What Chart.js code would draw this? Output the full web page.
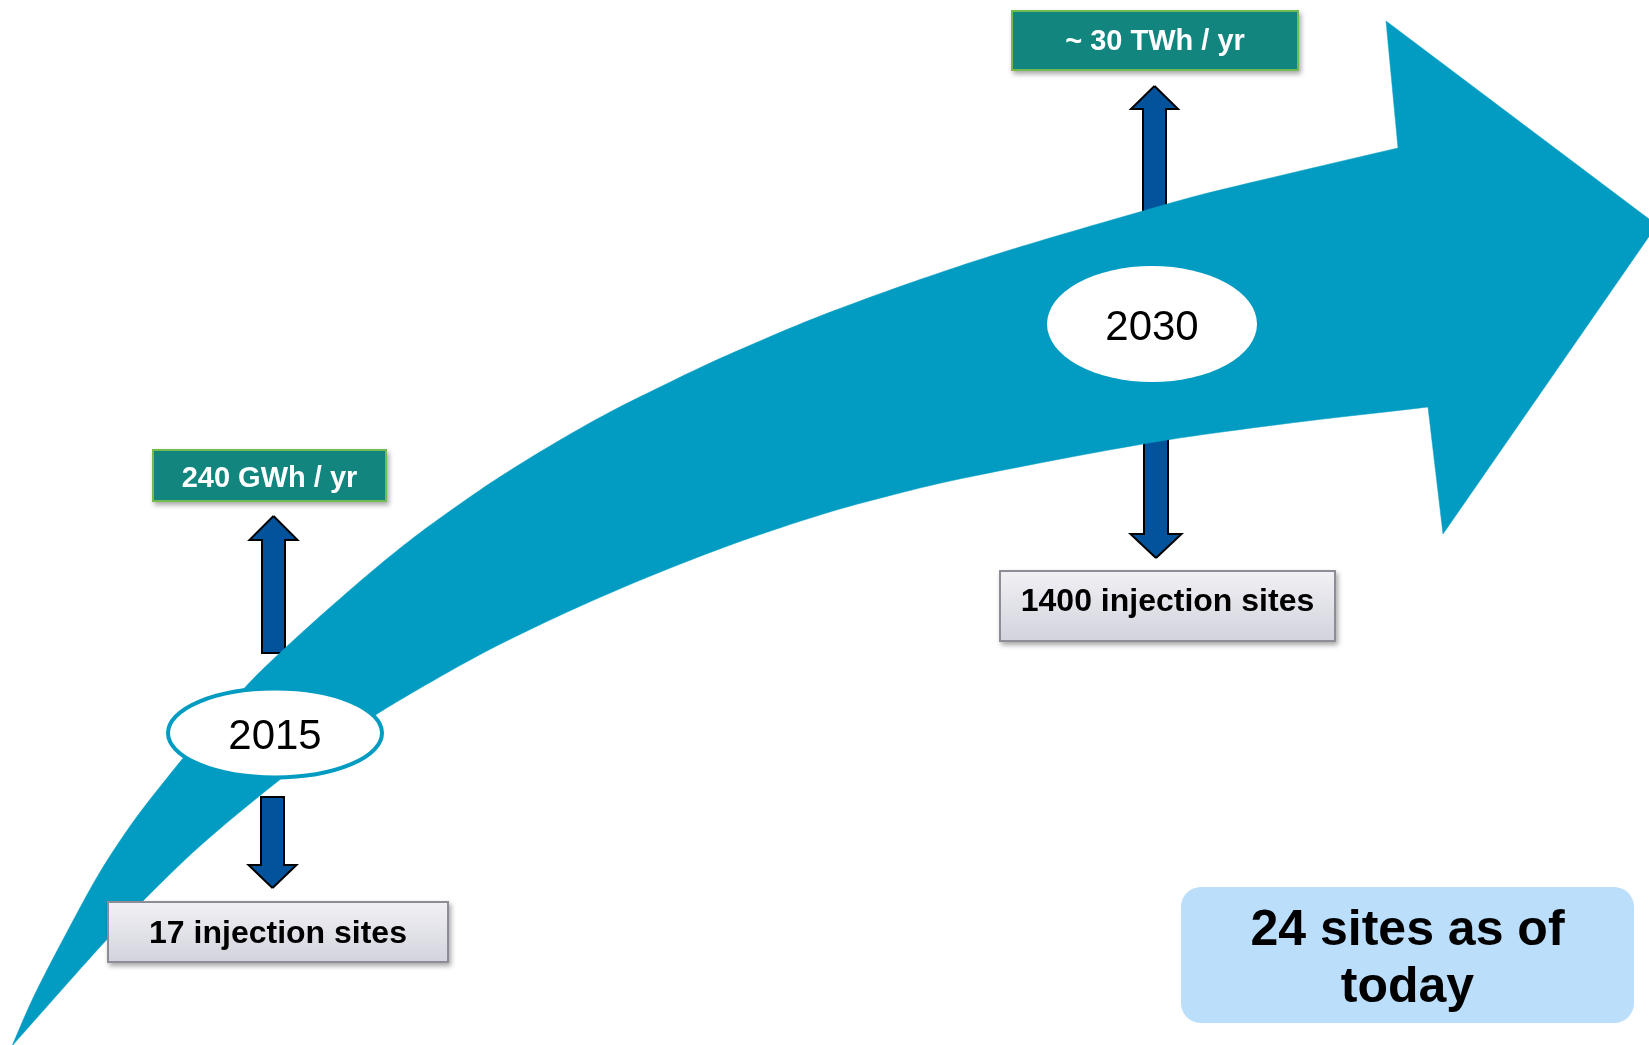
<!DOCTYPE html>
<html>
<head>
<meta charset="utf-8">
<script src="https://cdn.jsdelivr.net/npm/chart.js@4.4.1/dist/chart.umd.min.js"></script>
<style>
  html, body { margin: 0; padding: 0; background: #ffffff; }
  #wrap { width: 1649px; height: 1045px; position: relative; }
</style>
</head>
<body>
<div id="wrap"><canvas id="c" width="1649" height="1045"></canvas></div>
<script>
// ---------- data (texts) ----------
const milestoneYears = ['2015', '2030'];
const energyLabels = ['240 GWh / yr', '~ 30 TWh / yr'];
const siteLabels = ['17 injection sites', '1400 injection sites'];
const noteLines = ['24 sites as of', 'today'];

// ---------- big arrow outline (canvas units) ----------
const arrowUpperEdge = [
  [12, 1046], [33, 998], [67, 932], [100, 872], [133, 822], [167, 778], [200, 738],
  [250, 682], [283, 650], [317, 619], [350, 590], [383, 562], [417, 535], [450, 511],
  [483, 488], [517, 466], [560, 440], [610, 412], [660, 387], [710, 363], [760, 341],
  [810, 320], [860, 301], [910, 283], [960, 266], [1010, 250], [1060, 235], [1143, 211],
  [1200, 195], [1300, 171], [1398, 148], [1430, 141], [1440, 405]
];
const arrowLowerEdge = [
  [1428, 407], [1307, 421], [1200, 435], [1143, 444], [1050, 461], [950, 481], [900, 493],
  [833, 511], [750, 538], [683, 563], [617, 590], [550, 620], [483, 653], [417, 690],
  [377, 714], [330, 744], [277, 782], [200, 846], [140, 904], [100, 947], [50, 1003], [12, 1046]
];
const arrowHead = [[1398, 148], [1386, 21], [1657, 225], [1443, 534], [1428, 407], [1398, 148]];

// ---------- layout ----------
const layout = {
  ellipses: [
    { cx: 275, cy: 733, rx: 107, ry: 44.5, border: 4, baseline: 749 },
    { cx: 1152, cy: 324, rx: 105, ry: 58, border: 0, baseline: 340 }
  ],
  energyBoxes: [
    { x0: 152, y0: 449, x1: 387, y1: 502, baseline: 487 },
    { x0: 1011, y0: 10, x1: 1299, y1: 71, baseline: 50 }
  ],
  siteBoxes: [
    { x0: 107, y0: 901, x1: 449, y1: 963, baseline: 943 },
    { x0: 999, y0: 570, x1: 1336, y1: 642, baseline: 611 }
  ],
  upArrows: [
    { cx: 273.5, tip: 516, base: 540, end: 653, shaft: 23, head: 48 },
    { cx: 1154.5, tip: 86, base: 109, end: 222, shaft: 23, head: 47 }
  ],
  downArrows: [
    { cx: 272.5, tip: 888, base: 865, end: 797, shaft: 23, head: 48 },
    { cx: 1156, tip: 558, base: 534, end: 403, shaft: 24, head: 51 }
  ],
  note: { x0: 1181, y0: 887, x1: 1634, y1: 1023, r: 20, baselines: [945, 1002] }
};

const TEAL = '#029cc2';
const ARROW_BLUE = '#02539c';
const FONT = '"Liberation Sans", Arial, Helvetica, sans-serif';

const toPts = arr => arr.map(p => ({ x: p[0], y: p[1] }));

function blockArrow(a) {
  const hs = a.shaft / 2, hh = a.head / 2;
  const pts = [
    [a.cx, a.tip], [a.cx + hh, a.base], [a.cx + hs, a.base], [a.cx + hs, a.end],
    [a.cx - hs, a.end], [a.cx - hs, a.base], [a.cx - hh, a.base], [a.cx, a.tip]
  ];
  return toPts(pts);
}

const bandPolygon = toPts([...arrowUpperEdge, ...arrowLowerEdge]);

const datasets = [
  {
    data: bandPolygon, showLine: true, fill: 'shape', tension: 0.3,
    backgroundColor: TEAL, borderColor: TEAL, borderWidth: 0.5, pointRadius: 0
  },
  {
    data: toPts(arrowHead), showLine: true, fill: 'shape', tension: 0,
    backgroundColor: TEAL, borderColor: TEAL, borderWidth: 0.5, pointRadius: 0
  }
];
[...layout.upArrows, ...layout.downArrows].forEach(a => {
  datasets.push({
    data: blockArrow(a), showLine: true, fill: 'shape', tension: 0,
    backgroundColor: ARROW_BLUE, borderColor: '#000000', borderWidth: 2,
    borderJoinStyle: 'miter', pointRadius: 0
  });
});

function roundRect(ctx, x, y, w, h, r) {
  ctx.beginPath();
  ctx.moveTo(x + r, y);
  ctx.lineTo(x + w - r, y);
  ctx.arcTo(x + w, y, x + w, y + r, r);
  ctx.lineTo(x + w, y + h - r);
  ctx.arcTo(x + w, y + h, x + w - r, y + h, r);
  ctx.lineTo(x + r, y + h);
  ctx.arcTo(x, y + h, x, y + h - r, r);
  ctx.lineTo(x, y + r);
  ctx.arcTo(x, y, x + r, y, r);
  ctx.closePath();
}

const decorPlugin = {
  id: 'decor',
  afterDatasetsDraw(chart) {
    const ctx = chart.ctx;
    const xs = chart.scales.x, ys = chart.scales.y;
    const X = v => xs.getPixelForValue(v), Y = v => ys.getPixelForValue(v);
    ctx.save();

    // ellipses with years
    layout.ellipses.forEach((e, i) => {
      ctx.beginPath();
      ctx.ellipse(X(e.cx), Y(e.cy), X(e.cx + e.rx) - X(e.cx), Y(e.cy + e.ry) - Y(e.cy), 0, 0, Math.PI * 2);
      ctx.fillStyle = '#ffffff';
      ctx.fill();
      if (e.border) {
        ctx.lineWidth = e.border;
        ctx.strokeStyle = TEAL;
        ctx.stroke();
      }
      ctx.fillStyle = '#000000';
      ctx.font = '42px ' + FONT;
      ctx.textAlign = 'center';
      ctx.textBaseline = 'alphabetic';
      ctx.fillText(milestoneYears[i], X(e.cx), Y(e.baseline));
    });

    // energy boxes (green)
    layout.energyBoxes.forEach((b, i) => {
      const x = X(b.x0), y = Y(b.y0), w = X(b.x1) - x, h = Y(b.y1) - y;
      ctx.save();
      ctx.shadowColor = 'rgba(0,0,0,0.35)';
      ctx.shadowBlur = 5; ctx.shadowOffsetX = 2; ctx.shadowOffsetY = 3;
      ctx.fillStyle = '#11857e';
      ctx.fillRect(x, y, w, h);
      ctx.restore();
      ctx.lineWidth = 2;
      ctx.strokeStyle = '#72bb4e';
      ctx.strokeRect(x + 1, y + 1, w - 2, h - 2);
      ctx.fillStyle = '#ffffff';
      ctx.font = 'bold 29px ' + FONT;
      ctx.textAlign = 'center';
      ctx.textBaseline = 'alphabetic';
      ctx.fillText(energyLabels[i], x + w / 2, Y(b.baseline));
    });

    // site boxes (grey gradient)
    layout.siteBoxes.forEach((b, i) => {
      const x = X(b.x0), y = Y(b.y0), w = X(b.x1) - x, h = Y(b.y1) - y;
      const g = ctx.createLinearGradient(0, y, 0, y + h);
      g.addColorStop(0, '#f1f1f5');
      g.addColorStop(1, '#d2d2dc');
      ctx.save();
      ctx.shadowColor = 'rgba(0,0,0,0.35)';
      ctx.shadowBlur = 5; ctx.shadowOffsetX = 2; ctx.shadowOffsetY = 3;
      ctx.fillStyle = g;
      ctx.fillRect(x, y, w, h);
      ctx.restore();
      ctx.lineWidth = 2;
      ctx.strokeStyle = '#8d8d97';
      ctx.strokeRect(x + 1, y + 1, w - 2, h - 2);
      ctx.fillStyle = '#000000';
      ctx.font = 'bold 32px ' + FONT;
      ctx.textAlign = 'center';
      ctx.textBaseline = 'alphabetic';
      ctx.fillText(siteLabels[i], x + w / 2, Y(b.baseline));
    });

    // note box
    const n = layout.note;
    const nx = X(n.x0), ny = Y(n.y0), nw = X(n.x1) - nx, nh = Y(n.y1) - ny;
    roundRect(ctx, nx, ny, nw, nh, n.r);
    ctx.fillStyle = '#bbdefb';
    ctx.fill();
    ctx.fillStyle = '#000000';
    ctx.font = 'bold 50px ' + FONT;
    ctx.textAlign = 'center';
    ctx.textBaseline = 'alphabetic';
    noteLines.forEach((t, i) => ctx.fillText(t, nx + nw / 2, Y(n.baselines[i])));

    ctx.restore();
  }
};

new Chart(document.getElementById('c'), {
  type: 'scatter',
  data: { datasets },
  options: {
    responsive: false,
    devicePixelRatio: 1,
    animation: false,
    layout: { padding: 0 },
    plugins: { legend: { display: false }, tooltip: { enabled: false } },
    scales: {
      x: { type: 'linear', min: 0, max: 1649, display: false },
      y: { type: 'linear', min: 0, max: 1045, reverse: true, display: false }
    }
  },
  plugins: [decorPlugin]
});
</script>
</body>
</html>
